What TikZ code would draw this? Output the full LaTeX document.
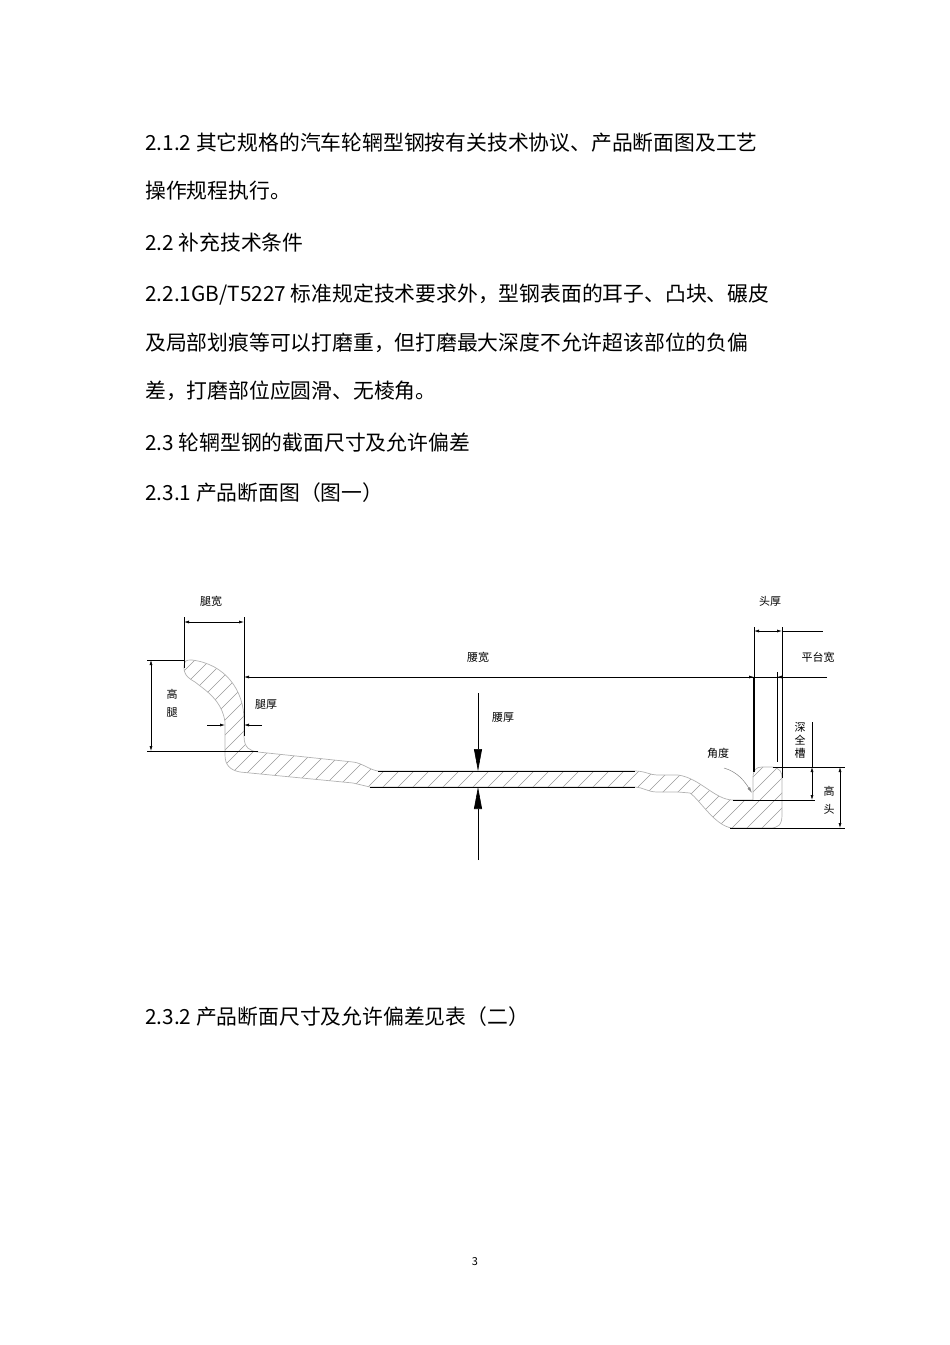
\documentclass[tikz,border=0pt]{standalone}
\usepackage{fontspec}
\setmainfont{Noto Sans CJK SC}
\usetikzlibrary{arrows.meta}
\begin{document}
\begin{tikzpicture}[x=1pt,y=-1pt,
  body/.style={anchor=west,font=\fontsize{20.8}{24}\selectfont,inner sep=0},
  lab/.style={font=\fontsize{11}{13}\selectfont,inner sep=0},
  dim/.style={line width=0.6pt},
  ext/.style={line width=0.6pt},
  sa/.style={-{Latex[length=5pt,width=3pt]}},
  big/.style={-{Triangle[length=22pt,width=8pt]}}]
\useasboundingbox (0,0) rectangle (950,1345);
\node[body] (t1) at (145,143) {2.1.2 其它规格的汽车轮辋型钢按有关技术协议、产品断面图及工艺};
\node[body] (t2) at (145,191) {操作规程执行。};
\node[body] (t3) at (145,243) {2.2 补充技术条件};
\node[body] (t4) at (145,295) {2.2.1GB/T5227 标准规定技术要求外，型钢表面的耳子、凸块、碾皮};
\node[body] (t5) at (145,343) {及局部划痕等可以打磨重，但打磨最大深度不允许超该部位的负偏};
\node[body] (t6) at (145,391) {差，打磨部位应圆滑、无棱角。};
\node[body] (t7) at (145,443) {2.3 轮辋型钢的截面尺寸及允许偏差};
\node[body] (t8) at (145,493) {2.3.1 产品断面图（图一）};
\node[body] (t9) at (145,1017) {2.3.2 产品断面尺寸及允许偏差见表（二）};
\node[font=\fontsize{11}{13}\selectfont] (pg) at (475,1262) {3};
% profile
\def\prof{(184,668) .. controls (184,660) and (186,660) .. (192,660)
  .. controls (225,664) and (244,690) .. (244,720) -- (244,736)
  .. controls (244,748) and (250,751) .. (258,752) -- (353,762)
  .. controls (362,763) and (370,770) .. (378,771) -- (635,771)
  .. controls (645,771) and (650,775) .. (657,775) -- (678,775)
  .. controls (700,778) and (715,800) .. (733,800) -- (753,800) -- (753,778)
  .. controls (753,770) and (756,767) .. (762,767) -- (772,767)
  .. controls (780,768) and (782,772) .. (782,778) -- (782,815)
  .. controls (782,825) and (778,828) .. (770,828) -- (732,828)
  .. controls (715,826) and (700,800) .. (690,793) -- (678,792) -- (657,792)
  .. controls (648,792) and (642,787) .. (635,787) -- (370,787) -- (353,783) -- (240,772)
  .. controls (230,770) and (225,765) .. (225,755) -- (225,722)
  .. controls (222,700) and (205,690) .. (195,682) .. controls (186,677) and (184,673) .. cycle}
\begin{scope}
\clip \prof;
\foreach \i in {0,...,60} {\draw[gray!80,line width=0.6pt] (-100+15*\i,880) -- +(250,-250);}
\end{scope}
\draw[gray!60,line width=0.7pt] \prof;
\draw[line width=0.8pt] (378,771) -- (635,771) (370,787) -- (635,787);
% 腿宽
\draw[ext] (184,617) -- (184,668) (244,617) -- (244,736);
\draw[dim,{Latex[length=5pt,width=3pt]}-{Latex[length=5pt,width=3pt]}] (184,622) -- (244,622);
\node[lab] (tk) at (211,601) {腿宽};
% 高腿
\draw[ext] (147,660) -- (184,660) (147,751) -- (258,751);
\draw[dim,{Latex[length=5pt,width=3pt]}-{Latex[length=5pt,width=3pt]}] (151,660) -- (151,751);
\node[lab,align=center] (gt) at (172,703) {高\\[5pt]腿};
% 腿厚
\coordinate (lh1) at (207,725); \coordinate (lh2) at (262,725);
\draw[dim,sa] (lh1) -- (225,725);
\draw[dim,sa] (lh2) -- (244,725);
\node[lab] (th) at (266,705) {腿厚};
% 腰宽
\coordinate (yk1) at (827,677);
\draw[dim,sa] (yk1) -- (244,677);
\draw[dim,sa] (740,677) -- (754,677);
\draw[dim,sa] (790,677) -- (777,677);
\node[lab] (yk) at (478,657) {腰宽};
% 腰厚
\coordinate (yh1) at (478,693); \coordinate (yh2) at (478,860);
\draw[dim,big] (yh1) -- (478,771);
\draw[dim,big] (yh2) -- (478,787);
\node[lab] (yh) at (503,718) {腰厚};
% 头厚
\draw[ext] (754,627) -- (754,677);
\draw[line width=1.3pt] (754,677) -- (754,772);
\draw[ext] (782,627) -- (782,778);
\draw[line width=0.9pt] (777,672) -- (777,762);
\draw[dim,{Latex[length=5pt,width=3pt]}-{Latex[length=5pt,width=3pt]}] (754,631) -- (782,631);
\draw[ext] (782,631) -- (823,631);
\node[lab] (ht) at (770,601) {头厚};
\node[lab] (pt) at (818,657) {平台宽};
% 深全槽
\node[lab,align=center] (sq) at (800,740) {深\\全\\槽};
\draw[ext] (812,722) -- (812,767);
\draw[dim,{Latex[length=5pt,width=3pt]}-{Latex[length=5pt,width=3pt]}] (812,767) -- (812,800);
\draw[ext] (773,767) -- (845,767) (733,800) -- (815,800);
% 高头
\draw[ext] (730,828) -- (845,828);
\draw[dim,{Latex[length=5pt,width=3pt]}-{Latex[length=5pt,width=3pt]}] (840,767) -- (840,828);
\node[lab,align=center] (gh) at (829,800) {高\\[5pt]头};
% 角度
\node[lab] (jd) at (718,753) {角度};
\draw[line width=0.5pt,gray,-{Latex[length=6pt,width=3pt]}] (724,768) .. controls (738,772) and (745,782) .. (752,793);
\end{tikzpicture}
\end{document}
